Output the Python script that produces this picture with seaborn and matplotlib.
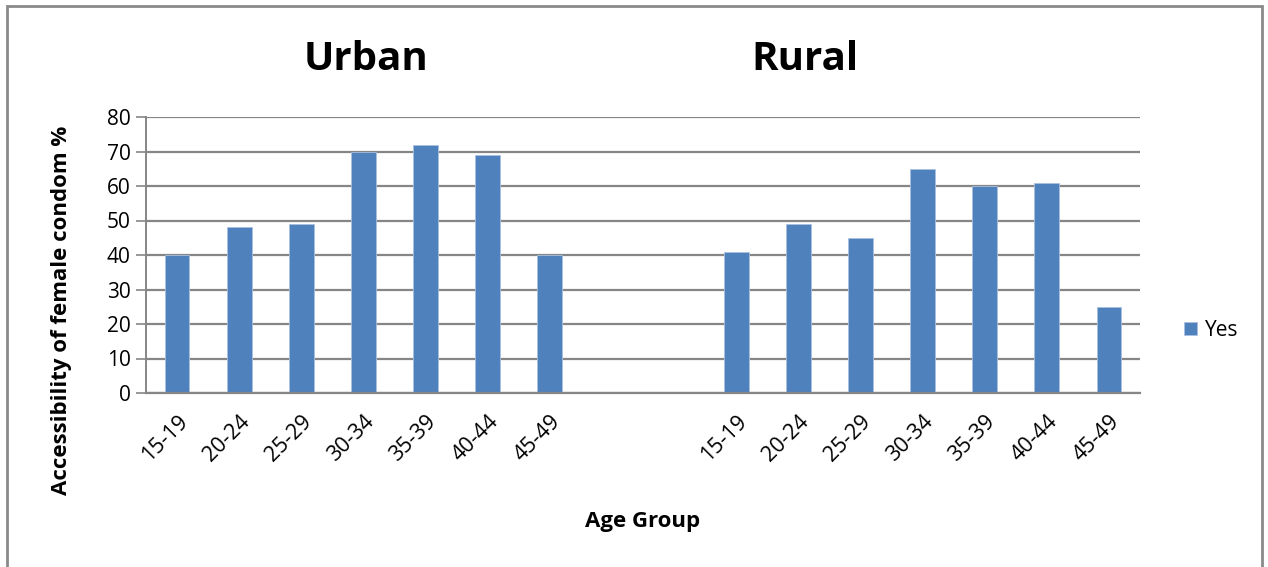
import matplotlib
matplotlib.use("Agg")
import matplotlib.pyplot as plt
import seaborn as sns
import pandas as pd
from matplotlib.patches import Rectangle

# Accessibility of female condom (%), by age group
age_groups = ["15-19", "20-24", "25-29", "30-34", "35-39", "40-44", "45-49"]
urban_yes = [40, 48, 49, 70, 72, 69, 40]
rural_yes = [41, 49, 45, 65, 60, 61, 25]
y_ticks = [0, 10, 20, 30, 40, 50, 60, 70, 80]

BAR = "#4F81BD"
GRID = "#868686"
FONT = "Open Sans"

sns.set_theme(style="white")
plt.rcParams["font.family"] = [FONT, "DejaVu Sans"]
plt.rcParams["text.color"] = "black"

# one slot per bar, with two empty slots separating the two settings
urban_slots = [f"Urban {a}" for a in age_groups]
rural_slots = [f"Rural {a}" for a in age_groups]
order = urban_slots + ["gap 1", "gap 2"] + rural_slots
df = pd.DataFrame({
    "slot": urban_slots + rural_slots,
    "value": urban_yes + rural_yes,
    "response": "Yes",
})

fig = plt.figure(figsize=(12.68, 5.67), dpi=100)
ax = fig.add_axes([146 / 1268, 1 - 393 / 567, (1140 - 146) / 1268, (393 - 117) / 567])

sns.barplot(data=df, x="slot", y="value", hue="response", order=order,
            palette=[BAR], width=0.4, saturation=1, ax=ax, legend=True,
            edgecolor="#A9C1E0", linewidth=0.6)

ax.set_ylim(0, 80)
ax.set_xlim(-0.5, len(order) - 0.5)
ax.set_yticks(y_ticks)
ax.set_yticklabels([str(t) for t in y_ticks], fontsize=15, color="black")
ax.yaxis.grid(True, color=GRID, linewidth=1.6)
ax.set_axisbelow(True)
ax.tick_params(axis="y", length=7, width=1.2, color=GRID, pad=4, left=True)
ax.tick_params(axis="x", length=0, pad=13)

labels = age_groups + ["", ""] + age_groups
ax.set_xticks(range(len(order)))
ax.set_xticklabels(labels, rotation=45, ha="right", rotation_mode="anchor",
                   fontsize=15.5, color="black")

for side in ["top", "right"]:
    ax.spines[side].set_visible(False)
ax.spines["left"].set_color(GRID)
ax.spines["left"].set_linewidth(1.4)
ax.spines["bottom"].set_color(GRID)
ax.spines["bottom"].set_linewidth(1.6)

ax.set_xlabel("Age Group", fontsize=16, fontweight="bold", color="black")
ax.xaxis.set_label_coords(0.5, -(521 - 393) / 276)
ax.xaxis.label.set_va("center")
ax.set_ylabel("Accessibility of female condom %", fontsize=16, fontweight="bold",
              color="black")
ax.yaxis.set_label_coords((62 - 146) / 994, (393 - 310) / 276)
ax.yaxis.label.set_va("center")

fig.text(366 / 1268, 1 - 60 / 567, "Urban", fontsize=29, fontweight="bold",
         ha="center", va="center", color="black")
fig.text(805 / 1268, 1 - 60 / 567, "Rural", fontsize=29, fontweight="bold",
         ha="center", va="center", color="black")

leg = ax.legend(loc="center left", bbox_to_anchor=(1.036, 0.228), frameon=False,
                fontsize=15, handlelength=0.6, handleheight=0.6, handletextpad=0.4,
                borderaxespad=0)

# outer chart border
fig.patches.append(Rectangle((7 / 1268, -0.05), (1262 - 7) / 1268, 1.05 - 6 / 567,
                             transform=fig.transFigure, fill=False,
                             edgecolor="#8A8A8A", linewidth=2))

fig.savefig("out.png", dpi=100, facecolor="white")
